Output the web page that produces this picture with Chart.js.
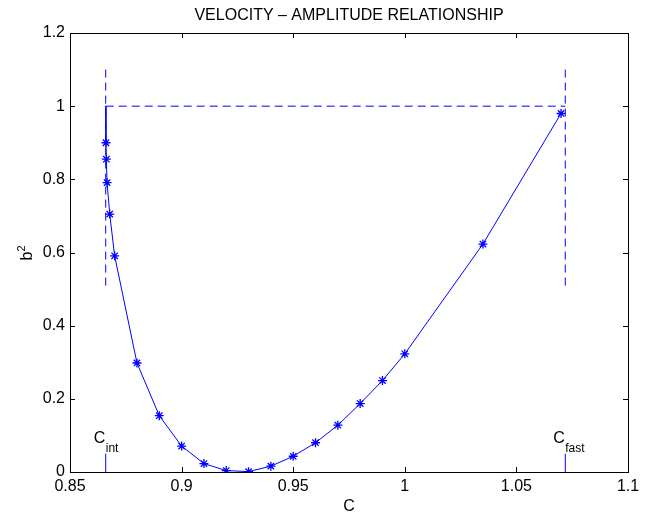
<!DOCTYPE html>
<html>
<head>
<meta charset="utf-8">
<script src="https://cdn.jsdelivr.net/npm/chart.js@4/dist/chart.umd.min.js"></script>
<style>
    body { margin: 0; background: #fff; }
    canvas { display: block; }
</style>
</head>
<body>
<canvas id="grafico" width="650" height="515"></canvas>
<script>
// DATA
const cVals  = [0.8660, 0.8661, 0.8663, 0.8666, 0.8678, 0.8700, 0.88, 0.89, 0.90, 0.91, 0.92, 0.93, 0.94, 0.95, 0.96, 0.97, 0.98, 0.99, 1.00, 1.035, 1.07]
const b2Vals = [1.000, 0.900, 0.855, 0.791, 0.705, 0.591, 0.298, 0.154, 0.071, 0.023, 0.004, 0.001, 0.016, 0.043, 0.080, 0.128, 0.187, 0.250, 0.323, 0.623, 0.980]
const cInt = 0.8660
const cFast = 1.0719
const xTicks = [0.85, 0.9, 0.95, 1, 1.05, 1.1]
const yTicks = [0, 0.2, 0.4, 0.6, 0.8, 1, 1.2]

const azul = '#0000ff'
const fonte = "'Liberation Sans', Arial, sans-serif"

// SETUP

const curva = cVals.map((c, i) => ({ x: c, y: b2Vals[i] }))

const linha = (pts, dash) => ({
    data: pts,
    showLine: true,
    borderColor: azul,
    borderWidth: 1,
    borderDash: dash,
    pointRadius: 0,
    fill: false
})

const datasets = [
    {
        data: curva,
        showLine: true,
        borderColor: azul,
        borderWidth: 1,
        pointStyle: 'star',
        pointRadius: (ctx) => ctx.dataIndex === 0 ? 0 : 4.5,
        pointBorderColor: azul,
        pointBorderWidth: 1.3,
        fill: false
    },
    linha([{ x: cInt, y: 1.1 }, { x: cInt, y: 0.5 }], [8, 5]),
    linha([{ x: cFast, y: 1.1 }, { x: cFast, y: 0.5 }], [8, 5]),
    linha([{ x: cInt, y: 1 }, { x: cFast, y: 1 }], [8, 5]),
    linha([{ x: cInt, y: 0 }, { x: cInt, y: 0.05 }], []),
    linha([{ x: cFast, y: 0 }, { x: cFast, y: 0.05 }], [])
]

const fmt = (v) => String(+Number(v).toFixed(2))

// frame, inward ticks and texts (matlab style)
const moldura = {
    id: 'moldura',
    afterDraw(chart) {
        const { ctx, chartArea: a, scales } = chart
        const sx = scales.x, sy = scales.y
        ctx.save()
        ctx.strokeStyle = '#000'
        ctx.lineWidth = 1
        ctx.beginPath()
        xTicks.forEach((v) => {
            const p = Math.round(sx.getPixelForValue(v)) + 0.5
            ctx.moveTo(p, a.bottom); ctx.lineTo(p, a.bottom - 5)
            ctx.moveTo(p, a.top); ctx.lineTo(p, a.top + 5)
        })
        yTicks.forEach((v) => {
            const p = Math.round(sy.getPixelForValue(v)) + 0.5
            ctx.moveTo(a.left, p); ctx.lineTo(a.left + 5, p)
            ctx.moveTo(a.right, p); ctx.lineTo(a.right - 5, p)
        })
        ctx.stroke()
        ctx.strokeRect(a.left + 0.5, a.top + 0.5, a.right - a.left, a.bottom - a.top)

        ctx.fillStyle = '#000'
        ctx.textBaseline = 'alphabetic'

        // title
        ctx.textAlign = 'center'
        ctx.font = '16px ' + fonte
        ctx.fillText('VELOCITY \u2013 AMPLITUDE RELATIONSHIP', (a.left + a.right) / 2, 20)

        // x label
        ctx.fillText('C', (a.left + a.right) / 2, 511)

        // y label b^2
        ctx.save()
        ctx.translate(32, 253)
        ctx.rotate(-Math.PI / 2)
        ctx.textAlign = 'left'
        ctx.font = '16px ' + fonte
        const wb = ctx.measureText('b').width
        ctx.fillText('b', -(wb + 6) / 2, 0)
        ctx.font = '11px ' + fonte
        ctx.fillText('2', -(wb + 6) / 2 + wb, -7)
        ctx.restore()

        // C_int and C_fast
        const rotulo = (c, sub) => {
            const px = sx.getPixelForValue(c)
            ctx.textAlign = 'left'
            ctx.font = '16px ' + fonte
            ctx.fillText('C', px - 12, 443)
            ctx.font = '12px ' + fonte
            ctx.fillText(sub, px, 452)
        }
        rotulo(cInt, 'int')
        rotulo(cFast, 'fast')
        ctx.restore()
    }
}

// CONFIG

const config = {
    type: 'scatter',
    data: { datasets: datasets },
    options: {
        responsive: false,
        animation: false,
        layout: { padding: { top: 33, right: 22, left: 0, bottom: 0 } },
        plugins: {
            legend: { display: false },
            tooltip: { enabled: false }
        },
        scales: {
            x: {
                type: 'linear',
                min: 0.85,
                max: 1.1,
                afterBuildTicks: (s) => { s.ticks = xTicks.map(v => ({ value: v })) },
                afterFit: (s) => { s.height = 43 },
                grid: { display: false, drawTicks: false },
                border: { display: false },
                ticks: {
                    color: '#000',
                    padding: 5,
                    maxRotation: 0,
                    autoSkip: false,
                    font: { family: fonte, size: 16 },
                    callback: fmt
                }
            },
            y: {
                type: 'linear',
                min: 0,
                max: 1.2,
                afterBuildTicks: (s) => { s.ticks = yTicks.map(v => ({ value: v })) },
                afterFit: (s) => { s.width = 70 },
                grid: { display: false, drawTicks: false },
                border: { display: false },
                ticks: {
                    color: '#000',
                    padding: 5,
                    autoSkip: false,
                    font: { family: fonte, size: 16 },
                    callback: fmt
                }
            }
        }
    },
    plugins: [moldura]
}

// RENDER

const grafico = new Chart(document.getElementById('grafico'), config)
</script>
</body>
</html>
